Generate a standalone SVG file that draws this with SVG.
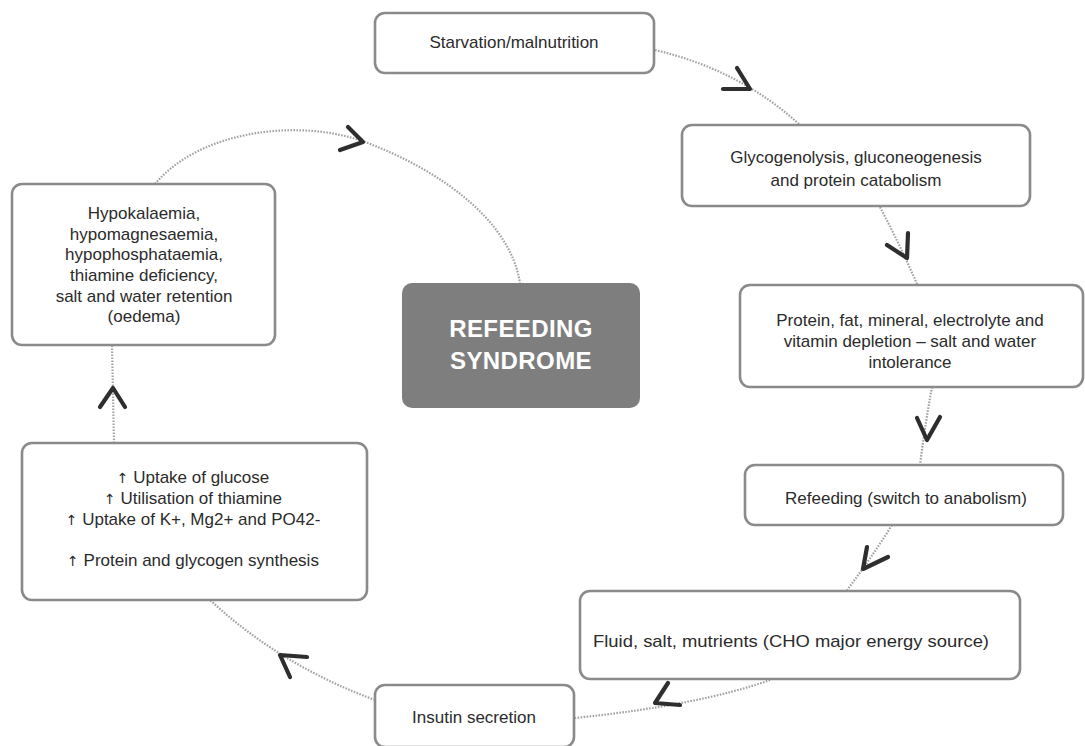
<svg xmlns="http://www.w3.org/2000/svg" width="1085" height="746" viewBox="0 0 1085 746">
<style>
.box{fill:#ffffff;stroke:#8a8a8a;stroke-width:2.6}
.t{font-family:"Liberation Sans",Arial,sans-serif;font-size:17px;fill:#2b2b2b;text-anchor:middle}
.ar{font-family:"DejaVu Sans","Liberation Sans",sans-serif;font-size:14px;fill:#2b2b2b}
.c{fill:none;stroke:#a3a3a3;stroke-width:2.2;stroke-dasharray:1.6 1.4}
.ch{fill:none;stroke:#2e2e2e;stroke-width:4.2;stroke-linecap:round;stroke-linejoin:round}
.big{font-family:"Liberation Sans",Arial,sans-serif;font-size:24px;font-weight:bold;fill:#ffffff;text-anchor:middle;letter-spacing:0.4px}
</style>
<rect width="1085" height="746" fill="#ffffff"/>
<g id="connectors">
<path class="c" d="M655,50 Q740,70 800,125"/>
<path class="c" d="M880,207 Q900,245 917,284"/>
<path class="c" d="M932,387 Q925,425 920,465"/>
<path class="c" d="M892,525 Q870,560 847,590"/>
<path class="c" d="M770,680 Q700,705 575,718"/>
<path class="c" d="M375,700 Q280,665 210,600"/>
<path class="c" d="M114,443 L112,345"/>
<path class="c" d="M155,184 C200,130 300,118 365,142 C440,170 510,220 520,283"/>
<polyline class="ch" points="737,68 750,89 723,89"/>
<polyline class="ch" points="887,245 907,258 908,233"/>
<polyline class="ch" points="917,418 927,440 940,417"/>
<polyline class="ch" points="867,547 863,569 888,557"/>
<polyline class="ch" points="668,683 655,703 680,705"/>
<polyline class="ch" points="307,657 280,655 290,677"/>
<polyline class="ch" points="100,407 113,388 125,407"/>
<polyline class="ch" points="348,127 363,142 340,150"/>
</g>
<g id="n1"><rect class="box" x="375" y="13" width="279" height="60" rx="10"/><text class="t" x="514" y="48">Starvation/malnutrition</text></g>
<g id="n2"><rect class="box" x="682" y="125" width="348" height="81" rx="10"/><text class="t" x="856" y="163">Glycogenolysis, gluconeogenesis</text><text class="t" x="856" y="186">and protein catabolism</text></g>
<g id="n3"><rect class="box" x="740" y="285" width="343" height="102" rx="10"/><text class="t" x="910" y="326">Protein, fat, mineral, electrolyte and</text><text class="t" x="910" y="347">vitamin depletion – salt and water</text><text class="t" x="910" y="368">intolerance</text></g>
<g id="n4"><rect class="box" x="745" y="465" width="318" height="60" rx="10"/><text class="t" x="906" y="504">Refeeding (switch to anabolism)</text></g>
<g id="n5"><rect class="box" x="580" y="591" width="440" height="88" rx="10"/><text class="t" x="791" y="647" textLength="396" lengthAdjust="spacingAndGlyphs">Fluid, salt, mutrients (CHO major energy source)</text></g>
<g id="n6"><rect class="box" x="375" y="685" width="199" height="62" rx="10"/><text class="t" x="474" y="723">Insutin secretion</text></g>
<g id="n7"><rect class="box" x="22" y="443" width="345" height="157" rx="10"/><text class="t" x="193" y="483"><tspan class="ar">↑</tspan> Uptake of glucose</text><text class="t" x="193" y="504"><tspan class="ar">↑</tspan> Utilisation of thiamine</text><text class="t" x="193" y="525"><tspan class="ar">↑</tspan> Uptake of K+, Mg2+ and PO42-</text><text class="t" x="193" y="566"><tspan class="ar">↑</tspan> Protein and glycogen synthesis</text></g>
<g id="n8"><rect class="box" x="12" y="184" width="263" height="161" rx="10"/><text class="t" x="144" y="219">Hypokalaemia,</text><text class="t" x="144" y="240">hypomagnesaemia,</text><text class="t" x="144" y="260">hypophosphataemia,</text><text class="t" x="144" y="281">thiamine deficiency,</text><text class="t" x="144" y="302">salt and water retention</text><text class="t" x="144" y="322">(oedema)</text></g>
<g id="center"><rect x="402" y="283" width="238" height="125" rx="10" fill="#7e7e7e"/><text class="big" x="521" y="337">REFEEDING</text><text class="big" x="521" y="369">SYNDROME</text></g>
</svg>
